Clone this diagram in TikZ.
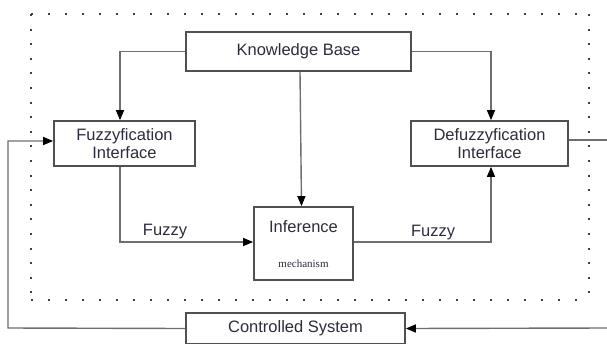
\documentclass[tikz,border=0pt]{standalone}
\usepackage{fontspec}
\setmainfont{Liberation Sans}
\newfontfamily\serifx{Liberation Serif}
\usetikzlibrary{arrows.meta}
\definecolor{boxc}{RGB}{80,80,80}
\definecolor{linec}{RGB}{110,110,110}
\definecolor{txt}{RGB}{45,45,60}
\tikzset{
  blk/.style={draw=boxc, line width=1.7pt, fill=white, rectangle, inner sep=0pt, align=center, text=txt, font=\fontsize{16.5}{18}\selectfont},
  conn/.style={draw=linec, line width=1.4pt},
  arr/.style={conn, -{Triangle[length=10pt,width=8pt]}, arrows={[color=black]}},
  dotline/.style={draw=black!75, line width=2pt, dash pattern=on 2pt off 15pt},
  lab/.style={text=txt, font=\fontsize{16.5}{18}\selectfont}
}
\begin{document}
\begin{tikzpicture}[x=1pt,y=-1pt]
\useasboundingbox (0,0) rectangle (607,343);
\clip (0,0) rectangle (607,343);
% dotted frame
\draw[dotline] (31,14) -- (589,14);
\draw[dotline] (31,300) -- (589,300);
\draw[draw=black!75, line width=2pt, dash pattern=on 2pt off 12.6pt] (31,14) -- (31,300);
\draw[draw=black!75, line width=2pt, dash pattern=on 2pt off 12.6pt] (589,14) -- (589,300);
% boxes
\node[blk, minimum width=225pt, minimum height=39pt] (kb) at (298.5,51.5) {Knowledge Base};
\node[blk, minimum width=141pt, minimum height=45pt] (fz) at (124.5,143.5) {Fuzzyfication\\[0pt]Interface};
\node[blk, minimum width=157pt, minimum height=45pt] (dz) at (489.5,143.5) {Defuzzyfication\\[0pt]Interface};
\node[blk, minimum width=99pt, minimum height=73pt] (inf) at (303.5,243.5) {};
\node[text=txt, font=\fontsize{16.5}{18}\selectfont] (inft) at (303.5,227) {Inference};
\node[text=txt, font=\serifx\fontsize{11}{12}\selectfont] (infm) at (303.5,264) {mechanism};
\node[blk, minimum width=219pt, minimum height=31pt] (cs) at (295.5,328.5) {Controlled System};
% helper coordinates at the picture's edges
\coordinate (re1) at (607,140);
\coordinate (re2) at (607,328);
\coordinate (le) at (8,328);
% connectors
\draw[arr] (kb.west) -| ([xshift=-4.5pt]fz.north);
\draw[arr] (kb.east) -| ([xshift=1.5pt]dz.north);
\draw[arr] ([xshift=1.5pt]kb.south) -- ([xshift=-2pt]inf.north);
\draw[arr] ([xshift=-4.5pt]fz.south) |- ([yshift=1.5pt]inf.west);
\draw[arr] ([yshift=1.5pt]inf.east) -| ([xshift=1.5pt]dz.south);
\draw[conn] ([yshift=3.5pt]dz.east) -- (re1);
\draw[arr] (re2) -- (cs.east);
\draw[arr] (cs.west) -- (le) |- ([yshift=2.5pt]fz.west);
% labels
\node[lab] (f1) at (165,232) {Fuzzy};
\node[lab] (f2) at (433,233) {Fuzzy};
\end{tikzpicture}
\end{document}
